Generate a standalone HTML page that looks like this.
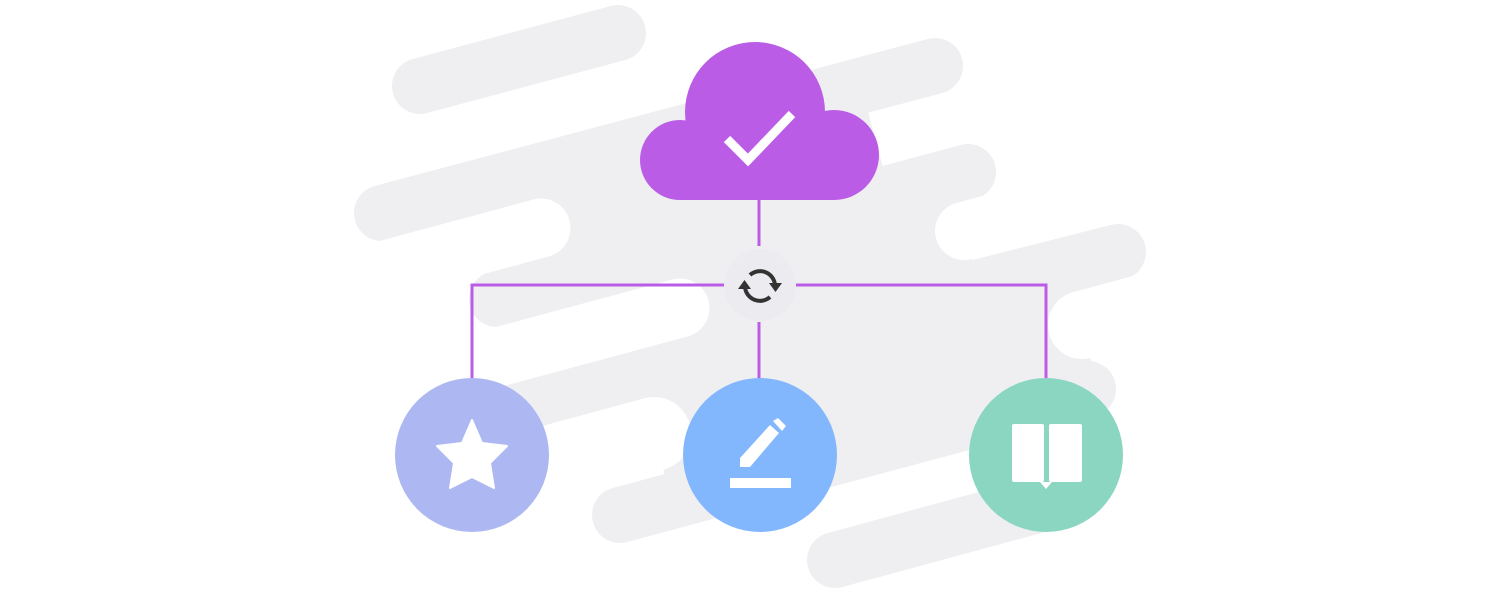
<!DOCTYPE html>
<html><head><meta charset="utf-8"><style>html,body{margin:0;padding:0;background:#fff}svg{display:block}</style></head>
<body>
<svg width="1500" height="594" viewBox="0 0 1500 594" xmlns="http://www.w3.org/2000/svg">
<g stroke="#efeff2" stroke-linecap="butt" fill="none">
<line x1="541" y1="228" x2="875" y2="138" stroke-width="66"/>
<line x1="680" y1="308" x2="964" y2="231" stroke-width="66"/>
<line x1="654" y1="435" x2="1080" y2="320" stroke-width="92"/>
</g>
<g stroke="#efeff2" stroke-linecap="round" fill="none" stroke-width="56">
<line x1="420" y1="86" x2="618" y2="33"/>
<line x1="382" y1="213" x2="935" y2="66"/>
<line x1="497" y1="299" x2="968" y2="172"/>
<line x1="515" y1="405" x2="1118" y2="252"/>
<line x1="620" y1="515" x2="1088" y2="389"/>
<line x1="835" y1="560" x2="1060" y2="499"/>
</g>
<g stroke="#fff" stroke-linecap="round" fill="none">
<line x1="300" y1="293" x2="541" y2="228" stroke-width="59"/>
<line x1="450" y1="370" x2="680" y2="308" stroke-width="59"/>
<line x1="964" y1="231" x2="1220" y2="162" stroke-width="58"/>
<line x1="400" y1="503" x2="654" y2="434" stroke-width="74"/>
<line x1="1082" y1="325" x2="1300" y2="266" stroke-width="68"/>
</g>
<!-- cloud -->
<g fill="#bb5ce6">
<circle cx="680" cy="160" r="40"/>
<circle cx="755" cy="112" r="70"/>
<circle cx="834" cy="155" r="45"/>
<rect x="680" y="140" width="154" height="60"/>
</g>
<polyline points="727,139 748,160 792,114" fill="none" stroke="#fff" stroke-width="9"/>
<!-- connectors -->
<g stroke="#bb5ce6" stroke-width="3" fill="none">
<line x1="759" y1="200" x2="759" y2="246"/>
<polyline points="472,380 472,285 724,285"/>
<polyline points="796,285 1046,285 1046,380"/>
<line x1="759" y1="322" x2="759" y2="380"/>
</g>
<circle cx="760" cy="285" r="36" fill="#ebebf0"/>
<g fill="none" stroke="#333" stroke-width="4">
<path d="M750,275 A15,15 0 0 1 775,285"/>
<path d="M770,297 A15,15 0 0 1 745,287"/>
</g>
<polygon points="769,283 782,283 775.5,292" fill="#333"/>
<polygon points="738,289 751,289 744.5,280" fill="#333"/>
<!-- nodes -->
<circle cx="472" cy="455" r="77" fill="#adb8f2"/>
<circle cx="760" cy="455" r="77" fill="#82b6fd"/>
<circle cx="1046" cy="455" r="77" fill="#8ad6c0"/>
<polygon points="472,420 482,443 507,446 490,463 494,488 472,477 450,488 454,463 437,446 462,443" fill="#fff" stroke="#fff" stroke-width="2" stroke-linejoin="round"/>
<g fill="#fff">
<rect x="730" y="478" width="61" height="10"/>
<polygon points="740,458 740,467 750,467 779,433 770,425"/>
<polygon points="773,421 782,431 786,426 778,418"/>
<rect x="1012" y="424" width="32" height="58" rx="2"/>
<rect x="1049" y="424" width="33" height="58" rx="2"/>
<polygon points="1040,482 1052,482 1046,489"/>
</g>
</svg>
</body></html>
